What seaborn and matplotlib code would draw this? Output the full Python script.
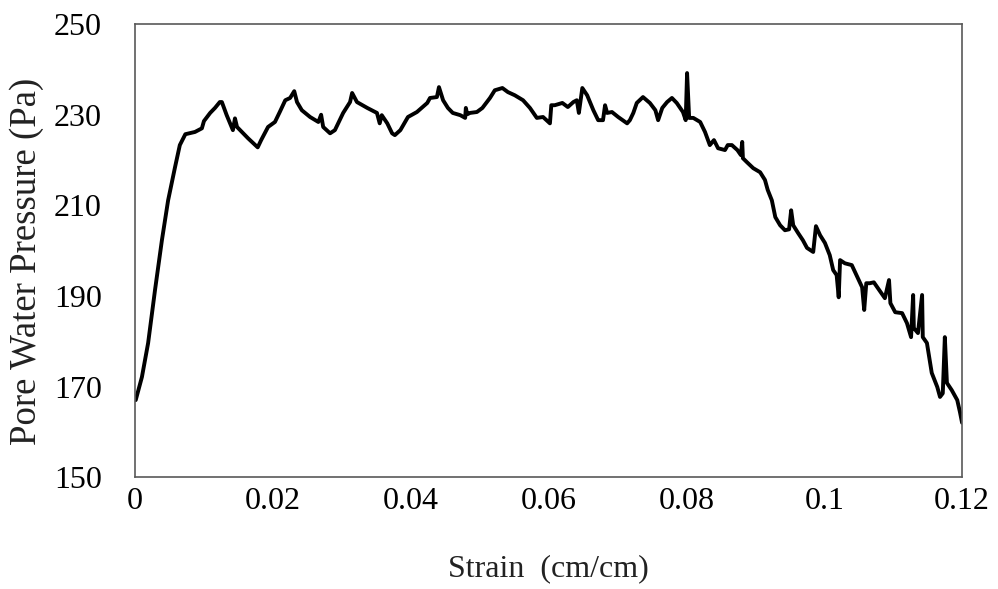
import matplotlib
matplotlib.use("Agg")
import matplotlib.pyplot as plt
import pandas as pd
import seaborn as sns

# Strain (cm/cm) and pore water pressure (Pa) readings
strain = [
    0.0001, 0.0010, 0.0019, 0.0029, 0.0039, 0.0048, 0.0058, 0.0065, 0.0073, 0.0087,
    0.0097, 0.0100, 0.0109, 0.0116, 0.0123, 0.0126, 0.0133, 0.0142, 0.0145, 0.0148,
    0.0164, 0.0178, 0.0183, 0.0193, 0.0203, 0.0210, 0.0218, 0.0225, 0.0231, 0.0235,
    0.0242, 0.0254, 0.0266, 0.0270, 0.0273, 0.0283, 0.0290, 0.0302, 0.0312, 0.0315,
    0.0322, 0.0337, 0.0351, 0.0355, 0.0358, 0.0366, 0.0373, 0.0377, 0.0385, 0.0396,
    0.0409, 0.0424, 0.0428, 0.0438, 0.0441, 0.0447, 0.0454, 0.0461, 0.0472, 0.0479,
    0.0480, 0.0482, 0.0486, 0.0496, 0.0504, 0.0515, 0.0522, 0.0533, 0.0541, 0.0551,
    0.0563, 0.0573, 0.0583, 0.0592, 0.0602, 0.0604, 0.0609, 0.0620, 0.0628, 0.0636,
    0.0641, 0.0644, 0.0649, 0.0656, 0.0665, 0.0672, 0.0679, 0.0682, 0.0685, 0.0692,
    0.0701, 0.0714, 0.0718, 0.0723, 0.0728, 0.0737, 0.0747, 0.0755, 0.0759, 0.0765,
    0.0772, 0.0779, 0.0786, 0.0795, 0.0799, 0.0801, 0.0804, 0.0810, 0.0820, 0.0827,
    0.0834, 0.0840, 0.0846, 0.0856, 0.0860, 0.0866, 0.0874, 0.0879, 0.0881, 0.0882,
    0.0888, 0.0897, 0.0907, 0.0914, 0.0918, 0.0924, 0.0929, 0.0936, 0.0943, 0.0949,
    0.0952, 0.0955, 0.0962, 0.0969, 0.0975, 0.0984, 0.0988, 0.0994, 0.1001, 0.1008,
    0.1013, 0.1018, 0.1021, 0.1023, 0.1030, 0.1040, 0.1048, 0.1055, 0.1058, 0.1061,
    0.1066, 0.1072, 0.1078, 0.1088, 0.1094, 0.1096, 0.1103, 0.1113, 0.1120, 0.1126,
    0.1129, 0.1130, 0.1136, 0.1142, 0.1143, 0.1149, 0.1156, 0.1164, 0.1168, 0.1172,
    0.1175, 0.1178, 0.1185, 0.1193, 0.1197, 0.1200,
]
pressure = [
    167.0, 172.1, 179.6, 191.3, 202.3, 211.1, 218.4, 223.3, 225.7, 226.2,
    227.0, 228.6, 230.4, 231.5, 232.8, 232.8, 229.9, 226.6, 229.2, 227.3,
    224.8, 222.8, 224.4, 227.3, 228.4, 230.6, 233.2, 233.7, 235.2, 232.8,
    231.0, 229.5, 228.4, 230.0, 227.3, 225.9, 226.6, 230.4, 232.8, 234.8,
    232.8, 231.5, 230.4, 228.1, 229.9, 228.1, 225.9, 225.5, 226.6, 229.5,
    230.6, 232.6, 233.7, 233.9, 236.1, 233.2, 231.5, 230.4, 229.9, 229.3,
    231.5, 230.1, 230.4, 230.6, 231.5, 233.7, 235.4, 235.9, 235.0, 234.3,
    233.2, 231.5, 229.3, 229.5, 228.1, 232.1, 232.1, 232.6, 231.7, 232.8,
    233.2, 230.4, 235.9, 234.3, 231.0, 228.8, 228.8, 232.1, 230.4, 230.6,
    229.5, 228.1, 228.8, 230.4, 232.6, 233.9, 232.6, 231.0, 228.8, 231.5,
    232.8, 233.7, 232.6, 230.6, 228.8, 239.2, 229.3, 229.3, 228.4, 226.2,
    223.3, 224.4, 222.6, 222.2, 223.3, 223.3, 222.2, 221.1, 224.0, 220.4,
    219.5, 218.2, 217.3, 215.6, 213.4, 211.1, 207.4, 205.6, 204.5, 204.7,
    208.9, 205.6, 203.9, 202.3, 200.6, 199.7, 205.4, 203.4, 201.7, 199.0,
    195.7, 194.6, 189.7, 197.9, 197.2, 196.8, 194.2, 191.9, 186.9, 192.8,
    192.8, 193.0, 191.7, 189.5, 193.5, 188.4, 186.4, 186.2, 184.0, 180.9,
    190.2, 182.9, 181.8, 190.2, 180.9, 179.6, 173.0, 169.9, 167.7, 168.5,
    180.9, 170.8, 169.2, 167.0, 164.3, 162.0,
]

x_ticks = [0, 0.02, 0.04, 0.06, 0.08, 0.10, 0.12]
x_tick_labels = ["0", "0.02", "0.04", "0.06", "0.08", "0.1", "0.12"]
y_ticks = [150, 170, 190, 210, 230, 250]

df = pd.DataFrame({"Strain": strain, "Pressure": pressure})

sns.set_theme(style="white")
plt.rcParams["font.family"] = ["Liberation Serif", "DejaVu Serif"]

fig = plt.figure(figsize=(9.98, 5.89), dpi=100)
ax = fig.add_axes([0.1353, 0.190, 0.8287, 0.769])

sns.lineplot(data=df, x="Strain", y="Pressure", sort=False, color="black",
             linewidth=2.8, ax=ax)
ax.lines[0].set_solid_joinstyle("round")
ax.lines[0].set_solid_capstyle("round")

ax.set_xlim(0, 0.12)
ax.set_ylim(150, 250)
ax.set_xticks(x_ticks)
ax.set_xticklabels(x_tick_labels)
ax.set_yticks(y_ticks)
ax.tick_params(axis="both", length=0, labelsize=23, colors="black")
ax.tick_params(axis="y", pad=24)
ax.tick_params(axis="x", pad=7)

ax.set_xlabel("Strain  (cm/cm)", fontsize=23, color="#222222", labelpad=28)
ax.set_ylabel("Pore Water Pressure (Pa)", fontsize=26.5, color="#222222")
ax.yaxis.set_label_coords(-0.110, 0.477)

for side in ["left", "right", "top", "bottom"]:
    ax.spines[side].set_visible(True)
    ax.spines[side].set_color("#595959")
    ax.spines[side].set_linewidth(1.2)

fig.savefig("out.png", dpi=100, facecolor="white")
